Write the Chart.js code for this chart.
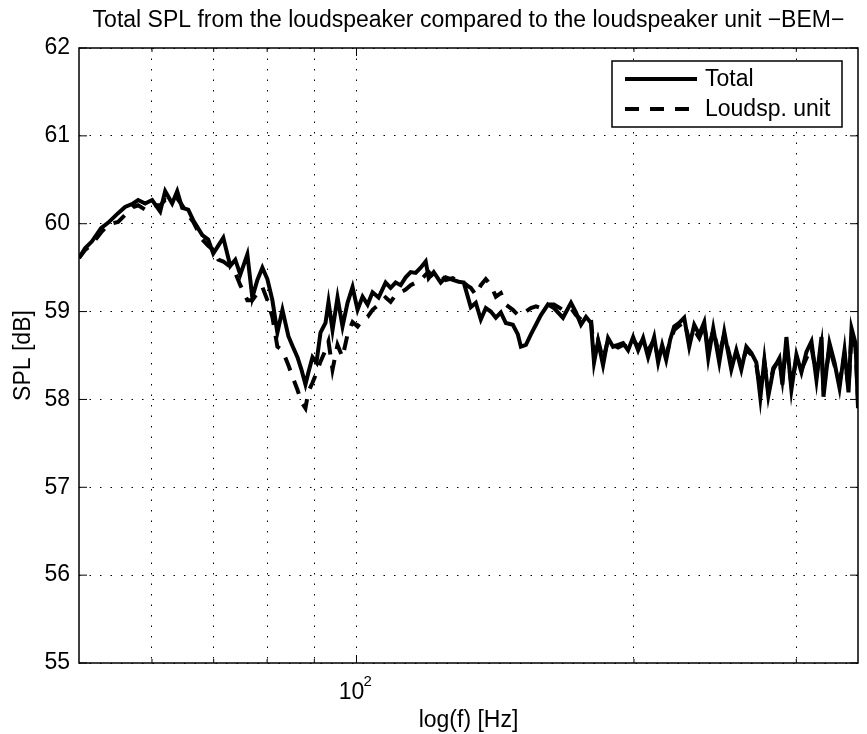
<!DOCTYPE html>
<html>
<head>
<meta charset="utf-8">
<title>Total SPL - BEM</title>
<script src="https://cdn.jsdelivr.net/npm/chart.js@4/dist/chart.umd.min.js"></script>
<style>
  html, body { margin: 0; padding: 0; background: #fff; }
  #wrap { width: 867px; height: 734px; }
</style>
</head>
<body>
<div id="wrap"><canvas id="splChart" width="867" height="734"></canvas></div>
<script>
// Frequencies [Hz]
const freqHz = [
    50.0, 50.76, 51.65, 52.83, 53.76, 55.13, 56.10, 57.24, 57.96, 58.98,
    60.02, 61.24, 62.01, 63.10, 63.90, 64.70, 65.68, 66.51, 68.03, 69.05,
    69.92, 70.81, 71.70, 72.96, 73.88, 74.81, 76.14, 77.09, 78.07, 79.05,
    80.04, 81.05, 82.07, 83.11, 84.36, 85.21, 86.29, 87.15, 88.03, 88.69,
    89.59, 90.49, 91.40, 92.55, 93.25, 94.19, 95.37, 96.57, 97.79, 99.02,
    100.27, 101.53, 102.81, 104.10, 105.68, 107.55, 108.90, 110.27, 111.66, 113.07,
    114.49, 115.93, 117.39, 118.87, 119.77, 121.28, 123.42, 124.97, 127.18, 129.11,
    130.73, 132.05, 133.04, 134.72, 136.42, 138.13, 139.87, 141.64, 143.42, 145.22,
    147.79, 149.65, 150.78, 152.68, 154.60, 156.55, 158.52, 161.32, 163.76, 167.49,
    170.88, 173.03, 175.21, 177.42, 179.65, 181.01, 182.83, 185.13, 187.46, 189.82,
    192.21, 194.63, 197.08, 199.57, 202.08, 204.62, 207.20, 210.34, 212.45, 214.59,
    216.75, 218.93, 221.13, 223.92, 226.74, 229.59, 232.48, 235.41, 238.37, 240.77,
    243.80, 247.49, 250.61, 255.04, 258.25, 261.50, 264.80, 268.13, 271.51, 274.24,
    277.00, 279.78, 283.31, 287.59, 289.76, 292.68, 296.36, 300.09, 303.87, 307.70,
    311.58, 315.50, 319.47, 321.08, 325.94, 330.04, 334.20, 338.40, 341.81, 344.38,
    347.85, 350.0
];

// Total SPL [dB]
const totalSpl = [
    59.61, 59.72, 59.80, 59.95, 60.01, 60.12, 60.19, 60.23, 60.27, 60.23,
    60.27, 60.14, 60.37, 60.23, 60.37, 60.18, 60.16, 60.04, 59.87, 59.82,
    59.66, 59.75, 59.84, 59.52, 59.59, 59.42, 59.65, 59.16, 59.36, 59.50,
    59.37, 59.13, 58.76, 59.02, 58.72, 58.61, 58.48, 58.34, 58.17, 58.31,
    58.48, 58.42, 58.76, 58.87, 59.11, 58.79, 59.16, 58.83, 59.10, 59.28,
    59.02, 59.17, 59.08, 59.22, 59.16, 59.33, 59.27, 59.33, 59.30, 59.39,
    59.45, 59.44, 59.50, 59.57, 59.38, 59.45, 59.33, 59.39, 59.36, 59.34,
    59.33, 59.17, 59.05, 59.10, 58.91, 59.04, 59.00, 58.93, 58.99, 58.87,
    58.85, 58.74, 58.60, 58.62, 58.74, 58.85, 58.96, 59.08, 59.04, 58.93,
    59.10, 58.99, 58.85, 58.94, 58.87, 58.42, 58.66, 58.39, 58.70, 58.60,
    58.62, 58.64, 58.56, 58.71, 58.56, 58.70, 58.48, 58.71, 58.42, 58.62,
    58.45, 58.68, 58.83, 58.87, 58.93, 58.60, 58.85, 58.74, 58.88, 58.47,
    58.81, 58.42, 58.77, 58.34, 58.56, 58.34, 58.60, 58.53, 58.42, 58.02,
    58.45, 58.04, 58.34, 58.47, 58.17, 58.71, 58.11, 58.51, 58.31, 58.54,
    58.66, 58.22, 58.71, 58.03, 58.64, 58.42, 58.13, 58.56, 58.08, 58.81,
    58.64, 57.90
];

// Loudspeaker unit SPL [dB]
const unitSpl = [
    59.61, 59.70, 59.77, 59.90, 59.99, 60.02, 60.10, 60.19, 60.21, 60.16,
    60.21, 60.21, 60.27, 60.25, 60.29, 60.21, 60.10, 60.02, 59.82, 59.75,
    59.70, 59.59, 59.57, 59.51, 59.44, 59.30, 59.13, 59.13, 59.21, 59.28,
    59.13, 58.94, 58.60, 58.56, 58.39, 58.26, 58.11, 57.97, 57.90, 58.09,
    58.19, 58.30, 58.43, 58.56, 58.66, 58.34, 58.62, 58.48, 58.74, 58.88,
    58.83, 58.91, 58.94, 59.02, 59.08, 59.16, 59.11, 59.19, 59.22, 59.25,
    59.30, 59.33, 59.36, 59.42, 59.45, 59.39, 59.42, 59.36, 59.38, 59.34,
    59.33, 59.29, 59.27, 59.19, 59.30, 59.37, 59.30, 59.17, 59.21, 59.08,
    59.02, 58.96, 58.99, 59.00, 59.04, 59.06, 59.04, 59.08, 59.08, 59.02,
    59.04, 58.96, 58.91, 58.93, 58.91, 58.51, 58.68, 58.45, 58.68, 58.62,
    58.59, 58.62, 58.60, 58.68, 58.60, 58.68, 58.56, 58.68, 58.47, 58.59,
    58.51, 58.66, 58.79, 58.84, 58.88, 58.68, 58.79, 58.70, 58.85, 58.56,
    58.79, 58.51, 58.74, 58.43, 58.54, 58.39, 58.56, 58.51, 58.39, 58.11,
    58.43, 58.09, 58.36, 58.45, 58.22, 58.62, 58.17, 58.45, 58.34, 58.47,
    58.59, 58.28, 58.62, 58.11, 58.59, 58.39, 58.20, 58.51, 58.13, 58.74,
    58.59, 57.99
];

// Axis ticks
const xGridHz = [60, 70, 80, 90, 100, 200, 300];
const yTicksDb = [55, 56, 57, 58, 59, 60, 61, 62];

const FONT = '"Liberation Sans", Arial, Helvetica, sans-serif';

// Build {x, y} points for the log axis
function toPoints(values) {
    return freqHz.map((f, i) => ({ x: f, y: values[i] }));
}

// Box around the axes with inward tick marks (MATLAB style)
const axesBox = {
    id: 'axesBox',
    afterDraw(chart) {
        const { ctx, chartArea: a, scales } = chart;
        ctx.save();
        ctx.strokeStyle = '#000';
        ctx.lineWidth = 1.5;
        ctx.setLineDash([]);
        ctx.strokeRect(a.left, a.top, a.right - a.left, a.bottom - a.top);

        ctx.lineWidth = 1;
        ctx.beginPath();
        yTicksDb.forEach(v => {
            const y = scales.y.getPixelForValue(v);
            ctx.moveTo(a.left, y); ctx.lineTo(a.left + 8, y);
            ctx.moveTo(a.right, y); ctx.lineTo(a.right - 8, y);
        });
        xGridHz.forEach(v => {
            const x = scales.x.getPixelForValue(v);
            const len = v === 100 ? 8 : 4;
            ctx.moveTo(x, a.bottom); ctx.lineTo(x, a.bottom - len);
            ctx.moveTo(x, a.top); ctx.lineTo(x, a.top + len);
        });
        ctx.stroke();

        // exponent of the 10^2 decade label
        const x100 = scales.x.getPixelForValue(100);
        ctx.fillStyle = '#000';
        ctx.font = '15px ' + FONT;
        ctx.textAlign = 'left';
        ctx.textBaseline = 'middle';
        ctx.fillText('2', x100 + 7, a.bottom + 19);
        ctx.restore();
    }
};

// Legend drawn inside the plot, top right
const boxLegend = {
    id: 'boxLegend',
    afterDraw(chart) {
        const { ctx, chartArea: a } = chart;
        const w = 230, h = 66;
        const left = a.right - 16 - w;
        const top = a.top + 13;
        ctx.save();
        ctx.fillStyle = '#fff';
        ctx.fillRect(left, top, w, h);
        ctx.strokeStyle = '#000';
        ctx.lineWidth = 1.5;
        ctx.setLineDash([]);
        ctx.strokeRect(left, top, w, h);

        ctx.font = '23px ' + FONT;
        ctx.textAlign = 'left';
        ctx.textBaseline = 'middle';
        chart.data.datasets.forEach((ds, i) => {
            const y = top + 18 + i * 30;
            ctx.strokeStyle = ds.borderColor;
            ctx.lineWidth = ds.borderWidth;
            ctx.setLineDash(ds.borderDash || []);
            ctx.beginPath();
            ctx.moveTo(left + 13, y);
            ctx.lineTo(left + 85, y);
            ctx.stroke();
            ctx.fillStyle = '#000';
            ctx.fillText(ds.label, left + 93, y + 1);
        });
        ctx.restore();
    }
};

function initChart() {
    const ctx = document.getElementById('splChart').getContext('2d');

    new Chart(ctx, {
        type: 'line',
        data: {
            datasets: [
                {
                    label: 'Total',
                    data: toPoints(totalSpl),
                    borderColor: '#000',
                    borderWidth: 4,
                    pointRadius: 0,
                    tension: 0,
                    order: 2
                },
                {
                    label: 'Loudsp. unit',
                    data: toPoints(unitSpl),
                    borderColor: '#000',
                    borderWidth: 4,
                    borderDash: [14, 11],
                    pointRadius: 0,
                    tension: 0,
                    order: 1
                }
            ]
        },
        options: {
            responsive: false,
            animation: false,
            devicePixelRatio: 1,
            layout: { padding: { left: 0, right: 9, top: 0, bottom: 0 } },
            plugins: {
                legend: { display: false },
                tooltip: { enabled: false },
                title: {
                    display: true,
                    fullSize: false,
                    text: 'Total SPL from the loudspeaker compared to the loudspeaker unit \u2212BEM\u2212',
                    color: '#000',
                    font: { family: FONT, size: 23, weight: 'normal' },
                    padding: { top: 7, bottom: 13.4 }
                }
            },
            scales: {
                x: {
                    type: 'logarithmic',
                    min: 50,
                    max: 350,
                    afterBuildTicks: scale => {
                        scale.ticks = xGridHz.map(v => ({ value: v }));
                    },
                    afterFit: scale => { scale.height = 71; },
                    ticks: {
                        autoSkip: false,
                        maxRotation: 0,
                        minRotation: 0,
                        padding: 16,
                        labelOffset: -5,
                        color: '#000',
                        font: { family: FONT, size: 23 },
                        callback: value => (value === 100 ? '10' : '')
                    },
                    grid: { color: '#000', lineWidth: 1, drawTicks: false },
                    border: { display: false, dash: [1.5, 9] },
                    title: {
                        display: true,
                        text: 'log(f) [Hz]',
                        color: '#000',
                        font: { family: FONT, size: 23 },
                        padding: { top: 0, bottom: 0 }
                    }
                },
                y: {
                    type: 'linear',
                    min: 55,
                    max: 62,
                    afterBuildTicks: scale => {
                        scale.ticks = yTicksDb.map(v => ({ value: v }));
                    },
                    afterFit: scale => { scale.width = 79; },
                    ticks: {
                        padding: 9,
                        color: '#000',
                        font: { family: FONT, size: 23 }
                    },
                    grid: { color: '#000', lineWidth: 1, drawTicks: false },
                    border: { display: false, dash: [1.5, 9] },
                    title: {
                        display: true,
                        text: 'SPL [dB]',
                        color: '#000',
                        font: { family: FONT, size: 23 },
                        padding: { top: 9.5, bottom: 0 }
                    }
                }
            }
        },
        plugins: [axesBox, boxLegend]
    });
}

document.addEventListener('DOMContentLoaded', initChart);
</script>
</body>
</html>
